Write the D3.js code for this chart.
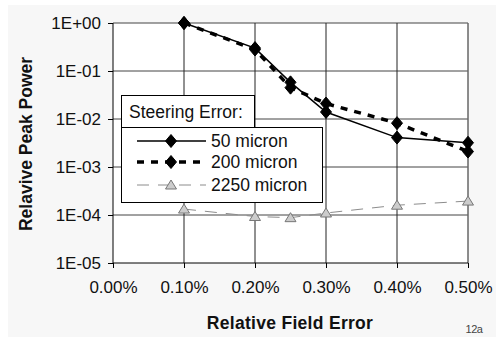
<!DOCTYPE html>
<html>
<head>
<meta charset="utf-8">
<script src="https://cdn.jsdelivr.net/npm/d3@7"></script>
<style>
  body { margin: 0; background: #fff; }
  svg { display: block; font-family: "Liberation Sans", Arial, sans-serif; }
</style>
</head>
<body>
<svg width="496" height="339"></svg>
<script>
// field error (fraction)
var fieldError = [0.001, 0.002, 0.0025, 0.003, 0.004, 0.005];
var power50 = [1.0, 0.30, 0.058, 0.014, 0.0041, 0.0032];
var power200 = [1.0, 0.28, 0.045, 0.021, 0.0082, 0.0021];
var power2250 = [1.33e-4, 9.3e-5, 8.8e-5, 1.1e-4, 1.6e-4, 1.95e-4];
var xTicks = [0, 0.001, 0.002, 0.003, 0.004, 0.005];
var yTicks = [1, 1e-1, 1e-2, 1e-3, 1e-4, 1e-5];
var yTickLabels = ["1E+00", "1E-01", "1E-02", "1E-03", "1E-04", "1E-05"];
var seriesNames = ["50 micron", "200 micron", "2250 micron"];

var svg = d3.select("svg");

// outer panel
svg.append("rect").attr("x", 8).attr("y", 5).attr("width", 488).attr("height", 332)
  .attr("fill", "#f7f7f7");

// note: "top" is taken by window.top, so plot bounds get a prefix
var plotL = 113, plotR = 468, plotT = 23, plotB = 263;
var x = d3.scaleLinear().domain([0, 0.005]).range([plotL, plotR]);
var y = d3.scaleLog().domain([1e-5, 1]).range([plotB, plotT]);

svg.append("rect").attr("x", plotL).attr("y", plotT)
  .attr("width", plotR - plotL).attr("height", plotB - plotT).attr("fill", "#fff");

// grid
svg.append("g").selectAll("line").data(yTicks.slice(0, 5)).enter().append("line")
  .attr("x1", plotL).attr("x2", plotR)
  .attr("y1", d => y(d)).attr("y2", d => y(d))
  .attr("stroke", "#444").attr("stroke-width", 1);
svg.append("g").selectAll("line").data(xTicks.slice(1)).enter().append("line")
  .attr("x1", d => x(d)).attr("x2", d => x(d))
  .attr("y1", plotT).attr("y2", plotB)
  .attr("stroke", "#222").attr("stroke-width", 1);
svg.append("line").attr("x1", plotR).attr("x2", plotR).attr("y1", plotT).attr("y2", plotB)
  .attr("stroke", "#888");

// axes
var yAxis = d3.axisLeft(y).tickValues(yTicks).tickSize(5).tickPadding(7)
  .tickFormat((d, i) => yTickLabels[i]);
var gy = svg.append("g").attr("transform", "translate(" + plotL + ",0)").call(yAxis);
var xAxis = d3.axisBottom(x).tickValues(xTicks).tickSize(5).tickPadding(13)
  .tickFormat(d3.format(".2%"));
var gx = svg.append("g").attr("transform", "translate(0," + plotB + ")").call(xAxis);
[gx, gy].forEach(g => {
  g.select(".domain").remove();
  g.selectAll(".tick line").attr("stroke", "#000");
  g.selectAll("text").attr("font-size", 17).attr("fill", "#111")
    .attr("font-family", "'Liberation Sans', Arial, sans-serif");
});
svg.append("line").attr("x1", plotL).attr("x2", plotL).attr("y1", plotT).attr("y2", plotB).attr("stroke", "#000");
svg.append("line").attr("x1", plotL).attr("x2", plotR).attr("y1", plotB).attr("y2", plotB).attr("stroke", "#000");

// series
var styles = [
  { data: power50, stroke: "#000", width: 1.5, dash: null, marker: "diamond" },
  { data: power200, stroke: "#000", width: 3.5, dash: "7,7", marker: "diamond" },
  { data: power2250, stroke: "#8c8c8c", width: 1, dash: "12,9", marker: "triangle" }
];
var diamond = "M0,-6.5L5.5,0L0,6.5L-5.5,0Z";
var triangle = "M0,-5L5.5,4L-5.5,4Z";
var line = d3.line().x(d => x(d[0])).y(d => y(d[1]));

styles.forEach(s => {
  var pts = fieldError.map((f, i) => [f, s.data[i]]);
  svg.append("path").attr("d", line(pts)).attr("fill", "none")
    .attr("stroke", s.stroke).attr("stroke-width", s.width)
    .attr("stroke-dasharray", s.dash);
  svg.append("g").selectAll("path").data(pts).enter().append("path")
    .attr("transform", d => "translate(" + x(d[0]) + "," + y(d[1]) + ")")
    .attr("d", s.marker === "diamond" ? diamond : triangle)
    .attr("fill", s.marker === "diamond" ? "#000" : "#ccc")
    .attr("stroke", s.marker === "diamond" ? "#000" : "#777")
    .attr("stroke-width", 1);
});

// legend
var lg = svg.append("g");
lg.append("rect").attr("x", 121.5).attr("y", 127.5).attr("width", 201).attr("height", 75)
  .attr("fill", "#fff").attr("stroke", "#000");
lg.append("rect").attr("x", 121.5).attr("y", 95.5).attr("width", 133).attr("height", 32)
  .attr("fill", "#fff").attr("stroke", "#000");
lg.append("text").attr("x", 129).attr("y", 118).attr("font-size", 17.5).attr("fill", "#111")
  .text("Steering Error:");
var rowY = [141, 162, 185];
styles.forEach((s, i) => {
  var yy = rowY[i];
  lg.append("line").attr("x1", 137).attr("x2", 206).attr("y1", yy).attr("y2", yy)
    .attr("stroke", s.stroke).attr("stroke-width", s.width)
    .attr("stroke-dasharray", s.dash);
  lg.append("path").attr("transform", "translate(171," + yy + ")")
    .attr("d", s.marker === "diamond" ? diamond : triangle)
    .attr("fill", s.marker === "diamond" ? "#000" : "#ccc")
    .attr("stroke", s.marker === "diamond" ? "#000" : "#777");
  lg.append("text").attr("x", 211).attr("y", yy + 6).attr("font-size", 17.5).attr("fill", "#111")
    .text(seriesNames[i]);
});

// titles
svg.append("text").attr("x", 290).attr("y", 329).attr("text-anchor", "middle")
  .attr("font-size", 17.5).attr("font-weight", "bold").attr("fill", "#111")
  .attr("letter-spacing", 0.3).text("Relative Field Error");
svg.append("text").attr("transform", "translate(32,144) rotate(-90)").attr("text-anchor", "middle")
  .attr("font-size", 17.5).attr("font-weight", "bold").attr("fill", "#111")
  .text("Relavive Peak Power");
svg.append("text").attr("x", 474).attr("y", 333).attr("text-anchor", "middle")
  .attr("font-size", 11).attr("fill", "#444").attr("letter-spacing", -0.5).text("12a");
</script>
</body>
</html>
